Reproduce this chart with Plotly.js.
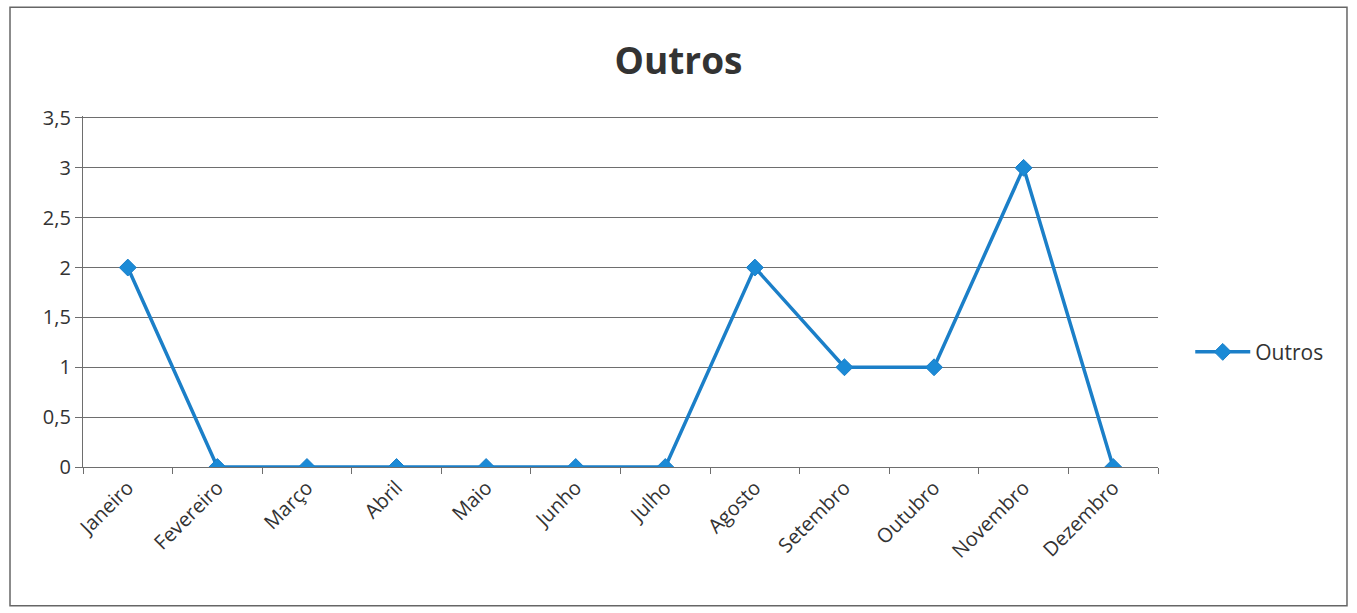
<!DOCTYPE html>
<html>
<head>
<meta charset="utf-8">
<script src="https://cdn.plot.ly/plotly-3.0.1.min.js"></script>
<style>html,body{margin:0;padding:0;background:#fff;}#chart{width:1357px;height:613px;}</style>
</head>
<body>
<div id="chart"></div>
<script>
const months = ["Janeiro","Fevereiro","Março","Abril","Maio","Junho","Julho","Agosto","Setembro","Outubro","Novembro","Dezembro"];
const outros = [2,0,0,0,0,0,0,2,1,1,3,0];
const yTicks = [0,0.5,1,1.5,2,2.5,3,3.5];
const yTickText = ["0","0,5","1","1,5","2","2,5","3","3,5"];

const trace = {
  x: months, y: outros, type: "scatter", mode: "lines+markers", name: "Outros",
  line: {color: "#1b7fc8", width: 3.5},
  marker: {symbol: "diamond", size: 13, color: "#1b8ad6", line: {color: "#1b7fc8", width: 1}}
};
const fam = "'Open Sans', Lato, sans-serif";
const layout = {
  width: 1357, height: 613,
  margin: {l: 83, r: 199, t: 116, b: 146},
  paper_bgcolor: "#fff", plot_bgcolor: "#fff",
  font: {family: fam, color: "#333", size: 20},
  title: {text: "<b>Outros</b>", x: 0.5, xref: "container", y: 0.9, yanchor: "middle", font: {size: 37, color: "#333", family: fam}},
  xaxis: {type: "category", range: [-0.5, 11.5], tickangle: -45, tickson: "boundaries", ticks: "outside", ticklen: 6, tickcolor: "#6e6e6e",
          showline: true, linecolor: "#6e6e6e", linewidth: 1.2, showgrid: false, zeroline: false,
          tickfont: {size: 20, color: "#333", family: fam}},
  yaxis: {range: [0, 3.52], tickvals: yTicks, ticktext: yTickText, ticks: "outside", ticklen: 7, tickcolor: "#6e6e6e",
          showline: true, linecolor: "#6e6e6e", linewidth: 1.2, gridcolor: "#6e6e6e", gridwidth: 1.2, zeroline: false,
          tickfont: {size: 20, color: "#333", family: fam}},
  showlegend: true,
  legend: {x: 1.03, xanchor: "left", y: 0.327, yanchor: "middle", itemwidth: 55, font: {size: 21, color: "#333", family: fam}, bgcolor: "rgba(0,0,0,0)"},
  shapes: [{type: "rect", xref: "paper", yref: "paper", x0: -0.0679, x1: 1.1758, y0: -0.395, y1: 1.31,
            line: {color: "#666", width: 1.5}, fillcolor: "rgba(0,0,0,0)"}]
};
Plotly.newPlot("chart", [trace], layout, {displayModeBar: false});
</script>
</body>
</html>
